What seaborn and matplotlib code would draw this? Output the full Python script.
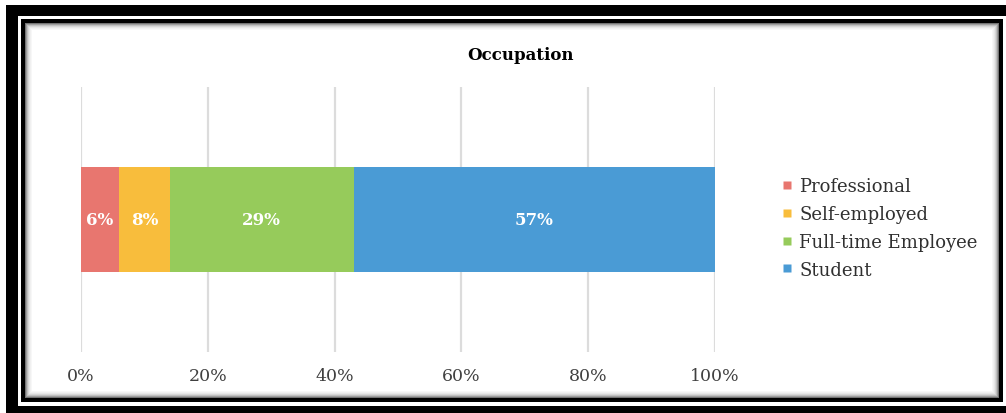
import matplotlib
matplotlib.use("Agg")
import matplotlib.pyplot as plt
import seaborn as sns
import pandas as pd
import numpy as np
from matplotlib.patches import Rectangle
from matplotlib.lines import Line2D

# ---- data ----
categories = ["Professional", "Self-employed", "Full-time Employee", "Student"]
shares = [6, 8, 29, 57]
colors = ["#E8766F", "#F8BD3C", "#96CB5B", "#4A9BD5"]
tick_values = [0, 20, 40, 60, 80, 100]
tick_labels = ["0%", "20%", "40%", "60%", "80%", "100%"]
title = "Occupation"

W, H = 1006, 414
sns.set_theme(style="white")
plt.rcParams['font.family'] = ['DejaVu Serif']

fig = plt.figure(figsize=(W / 100, H / 100), dpi=100)
fig.patch.set_facecolor('white')


def R(x0, y0, x1, y1, **kw):
    fig.patches.append(Rectangle((x0 / W, 1 - y1 / H), (x1 - x0) / W, (y1 - y0) / H,
                                 transform=fig.transFigure, figure=fig, **kw))


# outer frame
R(6, 6, 1030, 430, facecolor='black', edgecolor='none', zorder=-30)
R(18, 17, 1030, 407, facecolor='white', edgecolor='none', zorder=-29)
# inner frame with shadow
R(21, 20, 1003, 403, facecolor='black', edgecolor='none', zorder=-28)
shades = [0.45, 0.62, 0.75, 0.84, 0.9, 0.94, 0.97, 1.0]
for i, s in enumerate(shades):
    d = 4 + i
    R(21 + d, 20 + d, 1003 - d, 403 - d, facecolor=(s, s, s), edgecolor='none', zorder=-27 + i)

ax = fig.add_axes([81 / W, 1 - 353 / H, (715 - 81) / W, (353 - 88) / H])
ax.set_facecolor('none')
ax.set_zorder(5)

cum = np.cumsum(shares)
df = pd.DataFrame({"occupation": categories, "share": shares, "cum": cum,
                   "row": ["Occupation"] * len(categories)})
for i in range(len(categories) - 1, -1, -1):
    sns.barplot(data=df.iloc[[i]], x="cum", y="row", color=colors[i], width=0.5,
                ax=ax, orient='h', saturation=1, edgecolor='none', linewidth=0)

for i in range(len(categories)):
    ax.text(cum[i] - shares[i] / 2, 0, f"{shares[i]}%", ha='center', va='center',
            color='white', fontsize=12, fontweight='bold', zorder=10)

ax.set_xlim(0, 100)
ax.set_ylim(0.63, -0.63)
ax.set_xticks(tick_values)
ax.set_xticklabels(tick_labels, fontsize=12.5, color='#404040')
ax.set_yticks([])
ax.set_xlabel('')
ax.set_ylabel('')
ax.tick_params(axis='x', length=0, pad=11)
ax.grid(axis='x', color='#DCDCDC', linewidth=1.6)
ax.grid(axis='y', visible=False)
ax.set_axisbelow(True)
for sp in ax.spines.values():
    sp.set_visible(False)

fig.text(521 / W, 1 - 56 / H, title, ha='center', va='center', fontsize=12,
         fontweight='bold', color='black')

handles = [Line2D([0], [0], marker='s', linestyle='none', markersize=6,
                  markerfacecolor=c, markeredgecolor='none') for c in colors]
fig.legend(handles, categories, loc='upper left', bbox_to_anchor=(782 / W, 1 - 178 / H),
           frameon=False, fontsize=13, handlelength=0.6, handletextpad=0.35,
           labelspacing=0.55, borderpad=0, borderaxespad=0, labelcolor='#303030')

fig.savefig("out.png", dpi=100)
